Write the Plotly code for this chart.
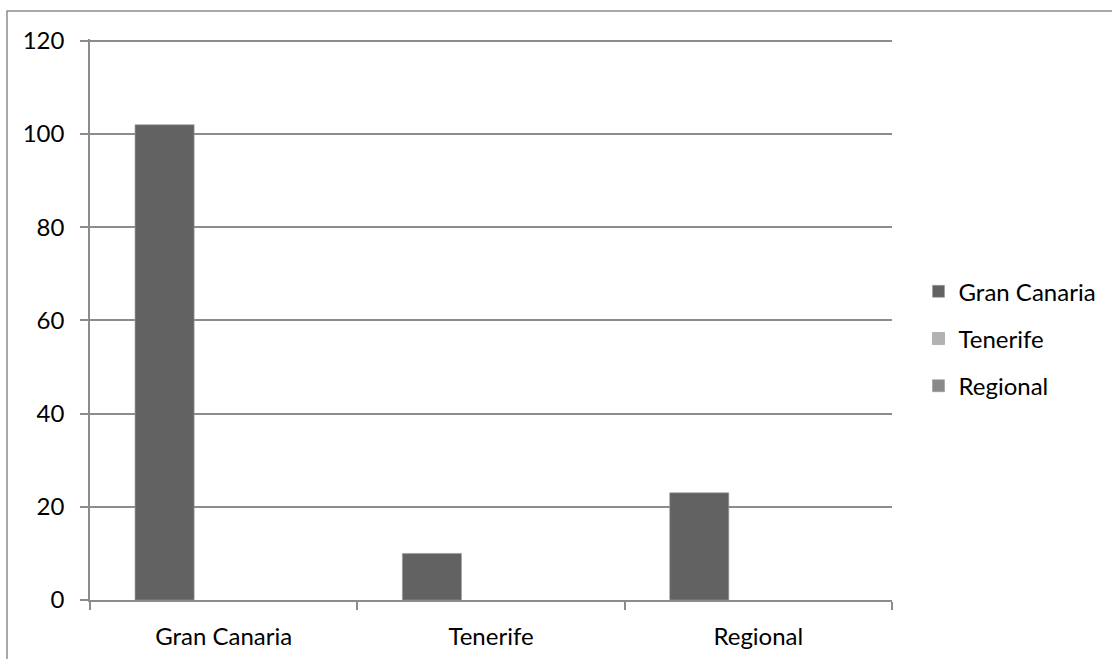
import plotly.graph_objects as go

categories = ["Gran Canaria", "Tenerife", "Regional"]
series_names = ["Gran Canaria", "Tenerife", "Regional"]
gran_canaria = [102, 10, 23]
tenerife = [None, None, None]
regional = [None, None, None]
series_values = [gran_canaria, tenerife, regional]
series_colors = ["#626262", "#B2B2B2", "#898989"]
y_ticks = [0, 20, 40, 60, 80, 100, 120]

FONT = "Lato, 'Open Sans', sans-serif"
GRID = "#8C8C8C"

fig = go.Figure()
for i, (name, vals, col) in enumerate(zip(series_names, series_values, series_colors)):
    fig.add_trace(go.Bar(
        x=categories, y=vals, name=name,
        marker=dict(color=col, line=dict(color="#9A9A9A", width=0.6)),
        legendgroup=f"g{i}",
    ))

fig.update_layout(
    width=1112, height=659,
    margin=dict(l=90, r=220, t=39, b=59, autoexpand=False),
    paper_bgcolor="white", plot_bgcolor="white",
    barmode="group", bargap=0.337, bargroupgap=0,
    font=dict(family=FONT, size=24, color="#000000"),
    showlegend=True,
    legend=dict(
        xref="container", yref="container",
        x=0.826, y=0.486, xanchor="left", yanchor="middle",
        traceorder="grouped", tracegroupgap=13,
        font=dict(family=FONT, size=24, color="#000000"),
        itemwidth=30,
    ),
    xaxis=dict(
        type="category", range=[-0.5, 2.5], automargin=False,
        tickson="boundaries", ticks="outside", ticklen=8,
        tickcolor=GRID, tickwidth=1.5,
        showline=True, linecolor=GRID, linewidth=1.5,
        showgrid=False, zeroline=False,
        ticklabelstandoff=14,
        tickfont=dict(family=FONT, size=24),
    ),
    yaxis=dict(
        range=[0, 120.4], tickvals=y_ticks, automargin=False,
        ticks="outside", ticklen=8, tickcolor=GRID, tickwidth=1.5,
        showline=True, linecolor=GRID, linewidth=1.5,
        showgrid=True, gridcolor=GRID, gridwidth=1.5,
        zeroline=False,
        ticklabelstandoff=11,
        tickfont=dict(family=FONT, size=24),
    ),
    shapes=[dict(
        type="rect", xref="paper", yref="paper",
        x0=(7 - 90) / 802, x1=1.4, y0=-0.2, y1=1 + (39 - 11) / 561,
        line=dict(color="#8C8C8C", width=1.5), fillcolor="rgba(0,0,0,0)",
        layer="below",
    )],
)

fig.write_html("out.html")
